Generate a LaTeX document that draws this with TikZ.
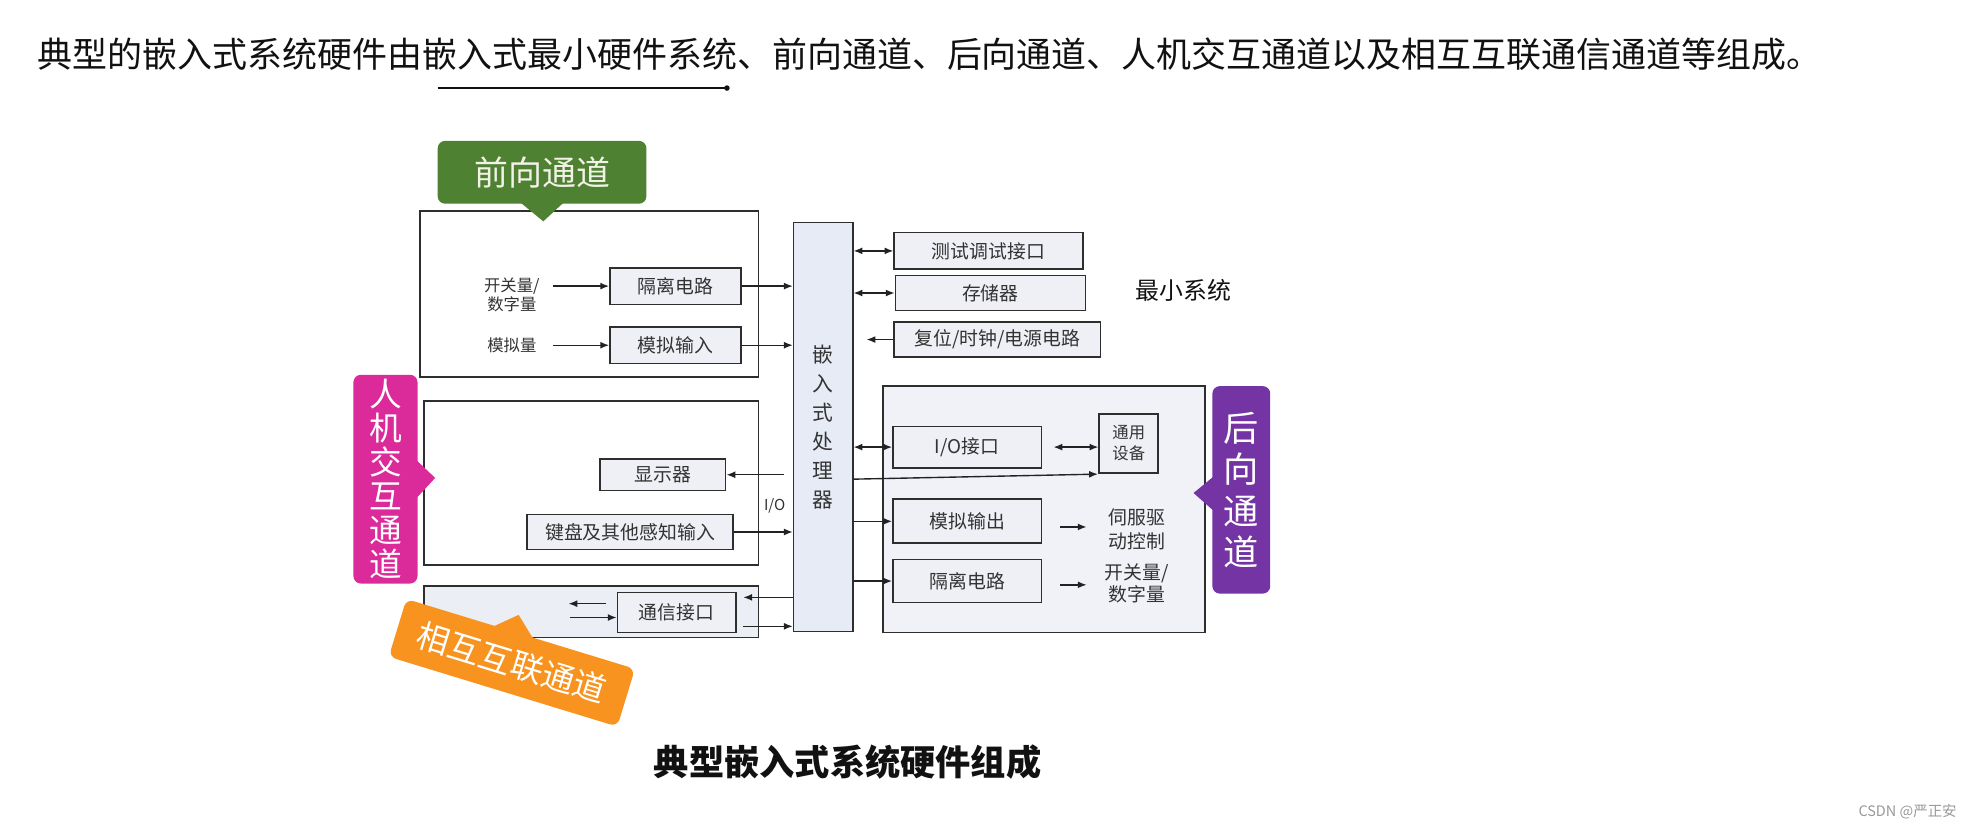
\documentclass[tikz,border=0pt]{standalone}
\usepackage{fontspec}
\setmainfont{Noto Sans CJK SC}
\usetikzlibrary{arrows.meta}
\definecolor{boxline}{HTML}{2E2E2E}
\definecolor{arrline}{HTML}{222222}
\definecolor{boxfill}{HTML}{EEF0F6}
\definecolor{procfill}{HTML}{E6EBF5}
\definecolor{backfill}{HTML}{F0F2F8}
\definecolor{commfill}{HTML}{ECEEF5}
\definecolor{boxtext}{HTML}{333333}
\definecolor{titletext}{HTML}{111111}
\definecolor{fwdgreen}{HTML}{4F8132}
\definecolor{fwdtext}{HTML}{F2F2E6}
\definecolor{hmipink}{HTML}{DB2A9A}
\definecolor{backpurple}{HTML}{7434A3}
\definecolor{mutorange}{HTML}{F7931E}
\definecolor{wmgray}{HTML}{999999}
\begin{document}
\begin{tikzpicture}[x=1pt,y=-1pt,
  box/.style={draw=boxline, line width=1.3pt, fill=boxfill, inner sep=0pt, text=boxtext, font={\fontsize{15}{18}\selectfont}},
  outer/.style={draw=boxline, line width=1.3pt, fill=white, inner sep=0pt},
  arr/.style={draw=arrline, line width=1.1pt, -{Latex[length=7pt,width=5.5pt]}},
  darr/.style={draw=arrline, line width=1.1pt, {Latex[length=7pt,width=5.5pt]}-{Latex[length=7pt,width=5.5pt]}},
  small/.style={text=boxtext, font={\fontsize{13}{15}\selectfont}, align=center, inner sep=0pt},
  backsmall/.style={text=boxtext, font={\fontsize{15}{19}\selectfont}, align=center, inner sep=0pt},
  tag/.style={inner sep=0pt, rounded corners=6pt, align=center},
]
\useasboundingbox (0,0) rectangle (1568,657.5);
\fill[white] (0,0) rectangle (1568,657.5);

% title
\node[anchor=west, inner sep=0pt, text=titletext, font={\fontsize{27.8}{33}\selectfont}] (title) at (30,43) {典型的嵌入式系统硬件由嵌入式最小硬件系统、前向通道、后向通道、人机交互通道以及相互互联通信通道等组成。};
\coordinate (ula) at (348,70);
\coordinate (ulb) at (578,70);
\draw[line width=2.2pt, draw=titletext] (ula) -- (ulb);
\fill[titletext] (ulb) circle (2.2pt);

% outer boxes
\node[outer, minimum width=269pt, minimum height=132pt] (front) at (468.5,234) {};
\node[outer, minimum width=266pt, minimum height=130pt] (hmi) at (470,384) {};
\node[outer, fill=commfill, minimum width=266pt, minimum height=41pt] (commbox) at (470,486.5) {};
\node[outer, fill=backfill, minimum width=256pt, minimum height=196pt] (back) at (830,405) {};

% processor
\node[box, fill=procfill, minimum width=47pt, minimum height=325pt, align=center, font={\fontsize{16.5}{23}\selectfont}] (proc) at (654.5,339.5) {嵌\\入\\式\\处\\理\\器};

% forward channel
\node[box, minimum width=104pt, minimum height=29pt] (iso1) at (537,227.5) {隔离电路};
\node[box, minimum width=104pt, minimum height=29pt] (ain) at (537,274.5) {模拟输入};
\node[small] (swin) at (407,234.5) {开关量/\\数字量};
\node[small] (anin) at (407,274.5) {模拟量};
\coordinate (swa) at (440,227.5);
\coordinate (ana) at (440,274.5);
\draw[arr] (swa) -- (iso1.west);
\draw[arr] (ana) -- (ain.west);
\draw[arr] (iso1.east) -- (iso1.east -| proc.west);
\draw[arr] (ain.east) -- (ain.east -| proc.west);

% HMI channel
\node[box, minimum width=100pt, minimum height=25pt] (disp) at (527,377.5) {显示器};
\node[box, minimum width=164pt, minimum height=28pt] (kbd) at (501,423) {键盘及其他感知输入};
\node[small, font={\fontsize{12}{14}\selectfont}] (iolbl) at (616,402) {I/O};
\coordinate (dispsrc) at (623,377.5);
\draw[arr] (dispsrc) -- (disp.east);
\draw[arr] (kbd.east) -- (kbd.east -| proc.west);

% communication channel
\node[box, minimum width=94pt, minimum height=32pt] (commif) at (538,487) {通信接口};
\coordinate (cout) at (591,475);
\coordinate (cin) at (591,498);
\draw[arr] (proc.west |- cout) -- (cout);
\draw[arr] (cin) -- (cin -| proc.west);
\coordinate (ca1) at (482,480);
\coordinate (ca2) at (452,480);
\coordinate (cb1) at (453,491);
\draw[arr] (ca1) -- (ca2);
\draw[arr] (cb1) -- (commif.west |- cb1);

% minimum system
\node[box, minimum width=150pt, minimum height=29pt] (dbg) at (786,199.5) {测试调试接口};
\node[box, minimum width=151pt, minimum height=28pt] (mem) at (787.5,233) {存储器};
\node[box, minimum width=164pt, minimum height=28pt] (rst) at (793,270) {复位/时钟/电源电路};
\node[inner sep=0pt, text=titletext, font={\fontsize{19}{22}\selectfont}] (minsys) at (941,231) {最小系统};
\draw[darr] (proc.east |- dbg.west) -- (dbg.west);
\draw[darr] (proc.east |- mem.west) -- (mem.west);
\coordinate (rstend) at (689,270);
\draw[arr] (rst.west) -- (rstend);

% backward channel
\node[box, minimum width=118pt, minimum height=33pt] (io) at (769,355.5) {I/O接口};
\node[box, minimum width=47pt, minimum height=47pt, align=center, font={\fontsize{13}{17}\selectfont}] (gen) at (897.5,352.5) {通用\\设备};
\node[box, minimum width=118pt, minimum height=35pt] (aout) at (769,414.5) {模拟输出};
\node[box, minimum width=118pt, minimum height=34pt] (iso2) at (769,462) {隔离电路};
\draw[darr] (proc.east |- io.west) -- (io.west);
\draw[darr, shorten <=9pt] (io.east) -- (io.east -| gen.west);
\coordinate (gl) at (678,381);
\coordinate (gr) at (873,377);
\draw[arr] (proc.east |- gl) -- (gr);
\draw[arr] (proc.east |- aout.west) -- (aout.west);
\draw[arr] (proc.east |- iso2.west) -- (iso2.west);
\node[backsmall] (servo) at (904,421) {伺服驱\\动控制};
\node[backsmall, font={\fontsize{15}{18}\selectfont}] (swout) at (904,464) {开关量/\\数字量};
\coordinate (sa1) at (843,419);
\coordinate (sa2) at (864,419);
\coordinate (sb1) at (843,465);
\coordinate (sb2) at (864,465);
\draw[arr] (sa1) -- (sa2);
\draw[arr] (sb1) -- (sb2);

% labels
\node[tag, fill=fwdgreen, text=fwdtext, minimum width=166pt, minimum height=50pt, font={\fontsize{27}{30}\selectfont}] (fwdlab) at (431,137) {前向通道};
\coordinate (fwdtip) at (432,176);
\fill[fwdgreen] ([xshift=-17pt,yshift=1pt]fwdlab.south) -- (fwdtip) -- ([xshift=17pt,yshift=1pt]fwdlab.south) -- cycle;

\node[tag, fill=hmipink, text=white, minimum width=51pt, minimum height=166pt, font={\fontsize{26}{27}\selectfont}] (hmilab) at (306.5,381) {人\\机\\交\\互\\通\\道};
\coordinate (hmitip) at (346,380);
\fill[hmipink] ([xshift=-1pt,yshift=15pt]hmilab.east) -- (hmitip) -- ([xshift=-1pt,yshift=-15pt]hmilab.east) -- cycle;

\node[tag, fill=backpurple, text=white, minimum width=46pt, minimum height=165pt, font={\fontsize{28}{33}\selectfont}] (backlab) at (987,389.5) {后\\向\\通\\道};
\coordinate (backtip) at (949,392);
\fill[backpurple] ([xshift=1pt,yshift=10.5pt]backlab.west) -- (backtip) -- ([xshift=1pt,yshift=-16.5pt]backlab.west) -- cycle;

\node[tag, fill=mutorange, text=white, minimum width=190pt, minimum height=48pt, rotate=-17, font={\fontsize{26}{30}\selectfont}] (mutlab) at (407,527) {相互互联通道};
\begin{scope}[shift={(407,527)}, rotate=-17]
  \fill[mutorange] (-24,-22) -- (-6,-38) -- (12,-22) -- cycle;
\end{scope}

% caption and watermark
\node[inner sep=0pt, text=titletext, font={\fontsize{28}{32}\selectfont\bfseries}] (caption) at (674,606) {典型嵌入式系统硬件组成};
\node[anchor=east, inner sep=0pt, text=wmgray, font={\fontsize{11.5}{13}\selectfont}] (wm) at (1556,645.5) {CSDN @严正安};
\end{tikzpicture}
\end{document}
